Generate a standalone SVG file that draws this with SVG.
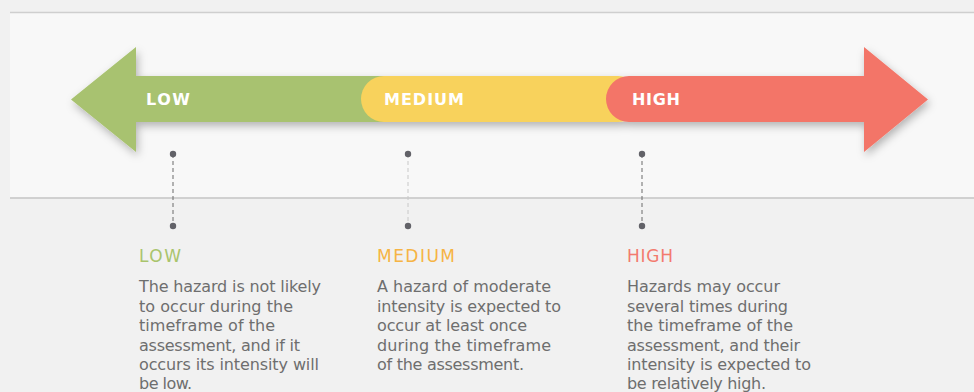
<svg xmlns="http://www.w3.org/2000/svg" width="974" height="392" viewBox="0 0 974 392">
<defs>
<filter id="sh" x="-10%" y="-30%" width="120%" height="170%">
<feDropShadow dx="2" dy="4" stdDeviation="4" flood-color="#000" flood-opacity="0.28"/>
</filter>
<style>
.bar{font-family:"DejaVu Sans","Open Sans",sans-serif;font-weight:700;font-size:16px;fill:#fff}
.ttl{font-family:"DejaVu Sans","Open Sans",sans-serif;font-size:17px}
.body{font-family:"DejaVu Sans","Open Sans",sans-serif;font-size:16px;fill:#6e6e6e}
.dot{fill:#626268}
.dash{stroke:#6a6a6a;stroke-width:1;stroke-dasharray:4 3;fill:none}
</style>
</defs>
<rect width="974" height="392" fill="#f1f1f1"/>
<rect x="10" y="12" width="964" height="186" fill="#f8f8f8"/>
<line x1="10" y1="12.5" x2="974" y2="12.5" stroke="#cfcfcf" stroke-width="1.5"/>
<line x1="10" y1="198" x2="974" y2="198" stroke="#c4c4c4" stroke-width="1.5"/>

<g id="arrow" filter="url(#sh)">
<g id="low-seg"><polygon points="71,99.5 136,47 136,76 390,76 390,122 136,122 136,152" fill="#a8c26f"/></g>
<g id="medium-seg"><rect x="361" y="76" width="280" height="46" rx="23" fill="#f8d25c"/></g>
<g id="high-seg"><path d="M629,76 H864 V47 L928,99.5 L864,152 V122 H629 A23,23 0 0 1 629,76 Z" fill="#f37567"/></g>
</g>
<text class="bar" x="146" y="105" textLength="44">LOW</text>
<text class="bar" x="384" y="105" textLength="80">MEDIUM</text>
<text class="bar" x="632" y="105" textLength="48">HIGH</text>

<g id="connectors">
<line class="dash" x1="173" y1="154" x2="173" y2="226"/>
<line class="dash" x1="408" y1="154" x2="408" y2="226" style="stroke:#c8c8c8"/>
<line class="dash" x1="642" y1="154" x2="642" y2="226"/>
</g>
<g id="dots">
<circle class="dot" cx="173" cy="154" r="3.2"/>
<circle class="dot" cx="173" cy="226" r="3.2"/>
<circle class="dot" cx="408" cy="154" r="3.2"/>
<circle class="dot" cx="408" cy="226" r="3.2"/>
<circle class="dot" cx="642" cy="154" r="3.2"/>
<circle class="dot" cx="642" cy="226" r="3.2"/>
</g>

<g id="low-desc">
<text class="ttl" x="139" y="262" fill="#a9c46c" textLength="42">LOW</text>
<text class="body" x="139" y="292" textLength="182">The hazard is not likely</text>
<text class="body" x="139" y="311.5" textLength="154">to occur during the</text>
<text class="body" x="139" y="331" textLength="136">timeframe of the</text>
<text class="body" x="139" y="350.5" textLength="161">assessment, and if it</text>
<text class="body" x="139" y="370" textLength="180">occurs its intensity will</text>
<text class="body" x="139" y="389" textLength="53">be low.</text>
</g>
<g id="medium-desc">
<text class="ttl" x="377" y="262" fill="#f6b444" textLength="78">MEDIUM</text>
<text class="body" x="377" y="292" textLength="174">A hazard of moderate</text>
<text class="body" x="377" y="311.5" textLength="184">intensity is expected to</text>
<text class="body" x="377" y="331" textLength="150">occur at least once</text>
<text class="body" x="377" y="350.5" textLength="174">during the timeframe</text>
<text class="body" x="377" y="370" textLength="147">of the assessment.</text>
</g>
<g id="high-desc">
<text class="ttl" x="627" y="262" fill="#f37a6e" textLength="46">HIGH</text>
<text class="body" x="627" y="292" textLength="153">Hazards may occur</text>
<text class="body" x="627" y="311.5" textLength="161">several times during</text>
<text class="body" x="627" y="331" textLength="166">the timeframe of the</text>
<text class="body" x="627" y="350.5" textLength="173">assessment, and their</text>
<text class="body" x="627" y="370" textLength="184">intensity is expected to</text>
<text class="body" x="627" y="389" textLength="139">be relatively high.</text>
</g>
</svg>
